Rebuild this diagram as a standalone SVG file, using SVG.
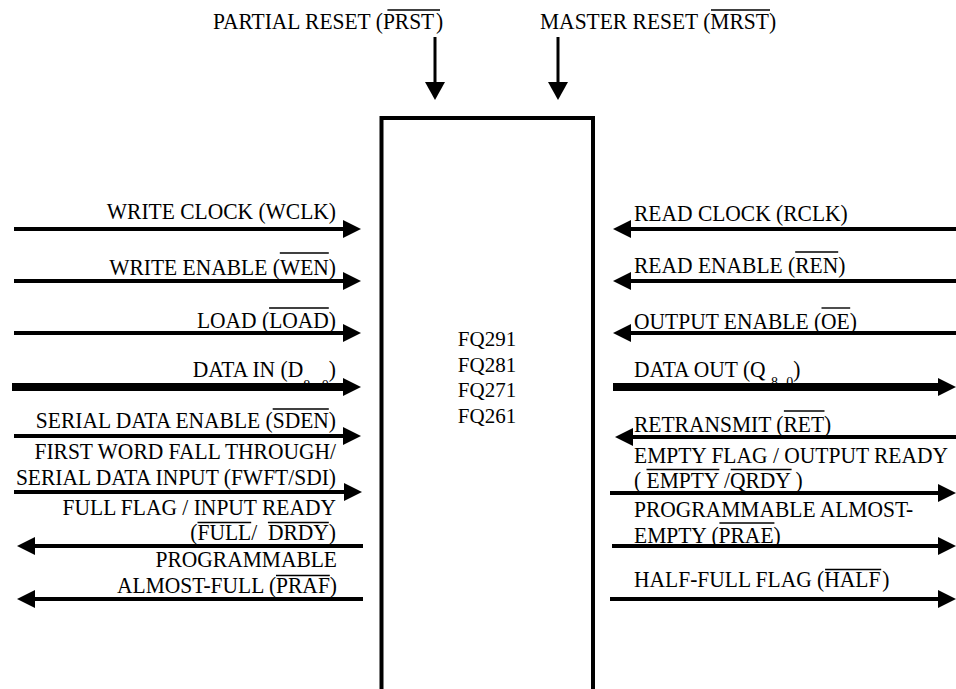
<svg xmlns="http://www.w3.org/2000/svg" width="956" height="689" viewBox="0 0 956 689">
<defs>
<style>
text{font-size:21.5px;fill:#000}
.e{text-anchor:end}
.c{text-anchor:middle;font-size:21px}
.sub{font-size:14px}
.ob{stroke:#000;stroke-width:1.4}
.w{stroke:#000;stroke-width:4;fill:none;marker-end:url(#ah)}
.b{stroke:#000;stroke-width:8;fill:none;marker-end:url(#ah)}
.v{stroke:#000;stroke-width:3;fill:none;marker-end:url(#ahv)}
</style>
<marker id="ah" markerUnits="userSpaceOnUse" markerWidth="18" markerHeight="18" refX="8" refY="9" orient="auto"><path d="M0,0 L18,9 L0,18 z" fill="#000"/></marker>
<marker id="ahv" markerUnits="userSpaceOnUse" markerWidth="18" markerHeight="20" refX="8" refY="10" orient="auto"><path d="M0,0 L18,10 L0,20 z" fill="#000"/></marker>
</defs>
<rect x="0" y="0" width="956" height="689" fill="#fff"/>
<g font-family="'Liberation Serif', 'Times New Roman', Tinos, serif">

<g id="chip">
<rect x="381.5" y="118" width="211.5" height="620" fill="none" stroke="#000" stroke-width="4"/>
<text class="c" x="487" y="346">FQ291</text>
<text class="c" x="487" y="372">FQ281</text>
<text class="c" x="487" y="397">FQ271</text>
<text class="c" x="487" y="423">FQ261</text>
</g>

<g id="prst"><text transform="translate(213,29) scale(1,1.1)">PARTIAL RESET (PRST&#8202;)</text><line class="ob" x1="387.4" y1="10" x2="440" y2="10"/></g>
<g id="mrst"><text transform="translate(540,29) scale(1,1.1)">MASTER RESET (MRST)</text><line class="ob" x1="711" y1="10" x2="770" y2="10"/></g>

<g id="wclk"><text class="e" transform="translate(336,219) scale(1,1.1)">WRITE CLOCK (WCLK)</text></g>
<g id="wen"><text class="e" transform="translate(336,275) scale(1,1.1)">WRITE ENABLE (WEN)</text><line class="ob" x1="279.8" y1="253" x2="328.8" y2="253"/></g>
<g id="load"><text class="e" transform="translate(336,328) scale(1,1.1)">LOAD (LOAD)</text><line class="ob" x1="269.1" y1="308" x2="328.8" y2="308"/></g>
<g id="datain"><text class="e" transform="translate(336,377) scale(1,1.1)">DATA IN (D<tspan class="sub" dy="12">8 - 0</tspan><tspan dy="-12">)</tspan></text></g>
<g id="sden"><text class="e" transform="translate(336,428) scale(1,1.1)">SERIAL DATA ENABLE (SDEN)</text><line class="ob" x1="272.7" y1="409" x2="328.8" y2="409"/></g>
<g id="fwft"><text class="e" transform="translate(336,459) scale(1,1.1)">FIRST WORD FALL THROUGH/</text><text class="e" transform="translate(336,485) scale(1,1.1)">SERIAL DATA INPUT (FWFT/SDI)</text></g>
<g id="full"><text class="e" transform="translate(336,515) scale(1,1.1)">FULL FLAG / INPUT READY</text><text class="e" transform="translate(336,540) scale(1,1.1)">(FULL/ &#160;DRDY)</text><line class="ob" x1="197.5" y1="522.5" x2="251.2" y2="522.5"/><line class="ob" x1="267.9" y1="522.5" x2="328.8" y2="522.5"/></g>
<g id="praf"><text class="e" transform="translate(337,567) scale(1,1.1)">PROGRAMMABLE</text><text class="e" transform="translate(337,593) scale(1,1.1)">ALMOST-FULL (PRAF)</text><line class="ob" x1="276" y1="575.5" x2="329.8" y2="575.5"/></g>

<g id="rclk"><text transform="translate(634,221) scale(1,1.1)">READ CLOCK (RCLK)</text></g>
<g id="ren"><text transform="translate(634,273) scale(1,1.1)">READ ENABLE (REN)</text><line class="ob" x1="795.2" y1="252" x2="838.2" y2="252"/></g>
<g id="oe"><text transform="translate(634,329) scale(1,1.1)">OUTPUT ENABLE (OE)</text><line class="ob" x1="821.5" y1="308" x2="850.2" y2="308"/></g>
<g id="dataout"><text transform="translate(634,377) scale(1,1.1)">DATA OUT (Q <tspan class="sub" dy="9">8- 0</tspan><tspan dy="-9">)</tspan></text></g>
<g id="ret"><text transform="translate(634,432) scale(1,1.1)">RETRANSMIT (RET)</text><line class="ob" x1="783.9" y1="411" x2="824.5" y2="411"/></g>
<g id="empty"><text transform="translate(634,463) scale(1,1.1)">EMPTY FLAG / OUTPUT READY</text><text transform="translate(634,488) scale(1,1.1)">( EMPTY /QRDY )</text><line class="ob" x1="646.5" y1="469.5" x2="719.4" y2="469.5"/><line class="ob" x1="730.7" y1="469.5" x2="791.6" y2="469.5"/></g>
<g id="prae"><text transform="translate(634,517) scale(1,1.1)">PROGRAMMABLE ALMOST-</text><text transform="translate(634,543) scale(1,1.1)">EMPTY (PRAE)</text><line class="ob" x1="719.4" y1="523" x2="774.4" y2="523"/></g>
<g id="half"><text transform="translate(634,587) scale(1,1.1)">HALF-FULL FLAG (HALF&#8202;)</text><line class="ob" x1="825.1" y1="569.5" x2="881.2" y2="569.5"/></g>
</g>

<g id="connectors">
<line class="v" x1="435" y1="37" x2="435" y2="90"/>
<line class="v" x1="558" y1="37" x2="558" y2="90"/>
<line class="w" x1="14" y1="229" x2="351" y2="229"/>
<line class="w" x1="14" y1="281" x2="351" y2="281"/>
<line class="w" x1="14" y1="333" x2="351" y2="333"/>
<line class="b" x1="12" y1="387" x2="351" y2="387"/>
<line class="w" x1="14" y1="436" x2="351" y2="436"/>
<line class="w" x1="14" y1="492" x2="352" y2="492"/>
<line class="w" x1="363" y1="546" x2="27" y2="546"/>
<line class="w" x1="363" y1="599" x2="27" y2="599"/>
<line class="w" x1="958" y1="229" x2="623" y2="229"/>
<line class="w" x1="958" y1="281" x2="623" y2="281"/>
<line class="w" x1="958" y1="333" x2="623" y2="333"/>
<line class="b" x1="613" y1="387" x2="946" y2="387"/>
<line class="w" x1="958" y1="437" x2="625" y2="437"/>
<line class="w" x1="610" y1="493" x2="946" y2="493"/>
<line class="w" x1="612" y1="546" x2="946" y2="546"/>
<line class="w" x1="610" y1="599" x2="946" y2="599"/>
</g>
</svg>
